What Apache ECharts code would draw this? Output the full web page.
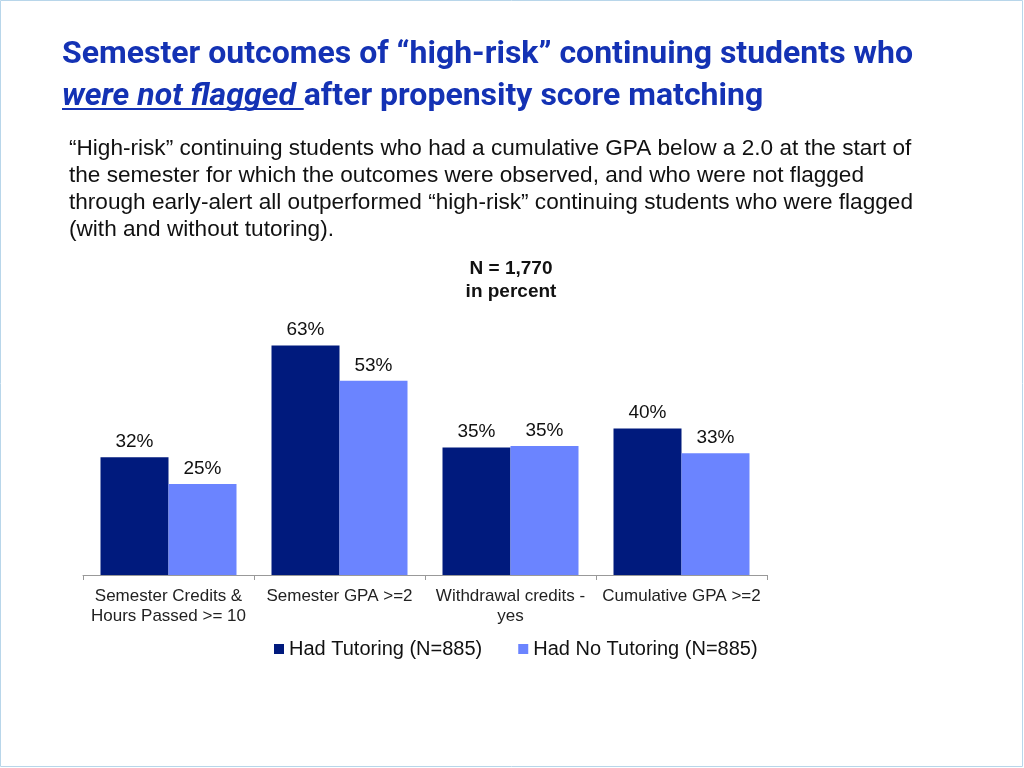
<!DOCTYPE html>
<html>
<head>
<meta charset="utf-8">
<script src="https://cdn.jsdelivr.net/npm/echarts@6/dist/echarts.min.js"></script>
<style>
  html, body { margin: 0; padding: 0; background: #fff; }
  #main { width: 1024px; height: 768px; }
</style>
</head>
<body>
<div id="main"></div>
<script>
var categories = ['Semester Credits &\nHours Passed >= 10', 'Semester GPA >=2', 'Withdrawal credits -\nyes', 'Cumulative GPA >=2'];
var tutoring = [32.3, 63, 35, 40.2];      // Had Tutoring (N=885)
var noTutoring = [25, 53.3, 35.4, 33.4];  // Had No Tutoring (N=885)
var seriesNames = ['Had Tutoring (N=885)', 'Had No Tutoring (N=885)'];

var chart = echarts.init(document.getElementById('main'));

// title pieces, measured so the underline and second half line up
var titleFont = 'bold 32px Roboto';
var titleItalicFont = 'italic bold 32px Roboto';
var ctx = document.createElement('canvas').getContext('2d');
ctx.font = titleItalicFont;
var flaggedW = ctx.measureText('were not flagged ').width;

var labelOpt = {
    show: true,
    position: 'top',
    distance: 6,
    fontFamily: 'Liberation Sans',
    fontSize: 19,
    color: '#111',
    formatter: function (p) { return Math.round(p.value) + '%'; }
};

var option = {
    animation: false,
    backgroundColor: '#fff',
    graphic: [
        { type: 'rect', shape: { x: 0.5, y: 0.5, width: 1022, height: 766 }, style: { fill: 'none', stroke: '#b8d6ea', lineWidth: 1 } },
        { type: 'text', x: 62, y: 55, style: { text: 'Semester outcomes of “high-risk” continuing students who', font: titleFont, fill: '#1432b4', textVerticalAlign: 'middle' } },
        { type: 'text', x: 62, y: 97, style: { text: 'were not flagged ', font: titleItalicFont, fill: '#1432b4', textVerticalAlign: 'middle' } },
        { type: 'text', x: 62 + flaggedW, y: 97, style: { text: 'after propensity score matching', font: titleFont, fill: '#1432b4', textVerticalAlign: 'middle' } },
        { type: 'line', shape: { x1: 62, y1: 109, x2: 62 + flaggedW, y2: 109 }, style: { stroke: '#1432b4', lineWidth: 2 } },
        {
            type: 'text', left: 69, top: 135,
            style: {
                text: '“High-risk” continuing students who had a cumulative GPA below a 2.0 at the start of\nthe semester for which the outcomes were observed, and who were not flagged\nthrough early-alert all outperformed “high-risk” continuing students who were flagged\n(with and without tutoring).',
                fontFamily: 'Liberation Sans', fontSize: 22.6, lineHeight: 27, fill: '#111'
            }
        },
        {
            type: 'text', x: 511, y: 257,
            style: {
                text: 'N = 1,770\nin percent', textAlign: 'center',
                fontFamily: 'Liberation Sans', fontWeight: 'bold', fontSize: 19, lineHeight: 23, fill: '#111'
            }
        }
    ],
    legend: {
        left: 269,
        top: 634,
        itemWidth: 10,
        itemHeight: 10,
        itemGap: 36,
        icon: 'rect',
        textStyle: { fontFamily: 'Liberation Sans', fontSize: 20, color: '#111' },
        data: seriesNames
    },
    grid: { left: 83, right: 257, top: 320, bottom: 193, containLabel: false },
    xAxis: {
        type: 'category',
        data: categories,
        axisLine: { lineStyle: { color: '#999', width: 1 } },
        axisTick: { show: true, length: 5, lineStyle: { color: '#999' } },
        axisLabel: { fontFamily: 'Liberation Sans', fontSize: 17, color: '#222', lineHeight: 20, margin: 11, interval: 0 }
    },
    yAxis: {
        type: 'value',
        min: 0,
        max: 70,
        show: false,
        splitLine: { show: false }
    },
    series: [
        { name: seriesNames[0], type: 'bar', data: tutoring, barWidth: 68, barGap: '0%', itemStyle: { color: '#001a7d' }, label: labelOpt },
        { name: seriesNames[1], type: 'bar', data: noTutoring, barWidth: 68, barGap: '0%', itemStyle: { color: '#6b84ff' }, label: labelOpt }
    ]
};

chart.setOption(option);
</script>
</body>
</html>
